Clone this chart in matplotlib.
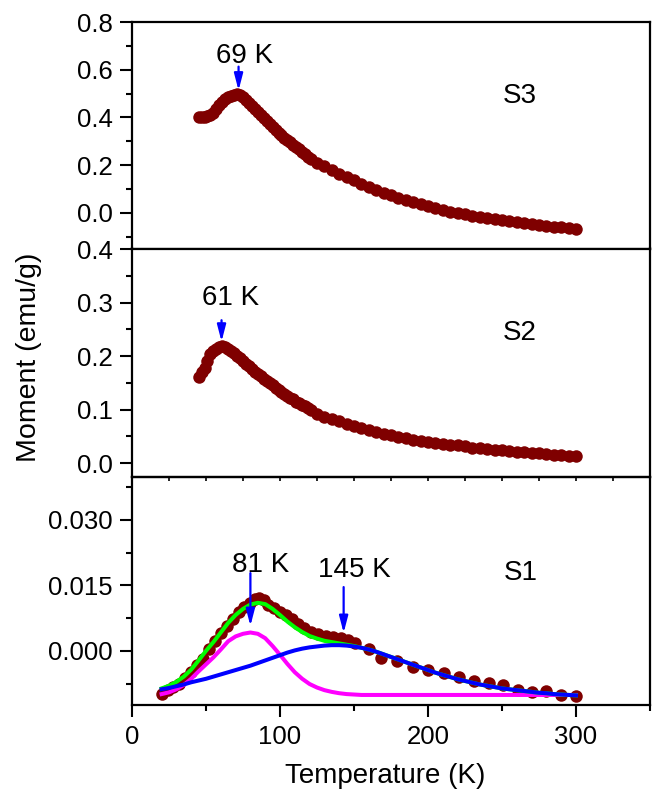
import matplotlib
matplotlib.use("Agg")
import matplotlib.pyplot as plt
from matplotlib.ticker import MultipleLocator, FormatStrFormatter

plt.rcParams['font.family'] = ['Liberation Sans', 'DejaVu Sans']

# ---------------- data ----------------
# S3 and S2: dense measurements (45-121 K) and sparser ones (125-300 K)
T_dense = [45, 47, 49, 51, 53, 55, 57, 59, 61, 63, 65, 67, 69, 71, 73, 75, 77, 79, 81, 83,
           85, 87, 89, 91, 93, 95, 97, 99, 101, 103, 105, 107, 109, 111, 113, 115, 117, 119, 121]
T_sparse = [125, 130, 135, 140, 145, 150, 155, 160, 165, 170, 175, 180, 185, 190, 195, 200,
            205, 210, 215, 220, 225, 230, 235, 240, 245, 250, 255, 260, 265, 270, 275, 280,
            285, 290, 295, 300]

S3_dense = [0.400, 0.402, 0.404, 0.406, 0.410, 0.420, 0.436, 0.452, 0.466, 0.478, 0.487, 0.492,
            0.496, 0.497, 0.493, 0.485, 0.474, 0.461, 0.448, 0.436, 0.424, 0.411, 0.399, 0.386,
            0.374, 0.362, 0.349, 0.337, 0.326, 0.316, 0.306, 0.296, 0.286, 0.276, 0.266, 0.256,
            0.246, 0.236, 0.226]
S3_sparse = [0.208, 0.195, 0.180, 0.165, 0.150, 0.136, 0.122, 0.108, 0.096, 0.085, 0.074, 0.064,
             0.054, 0.045, 0.036, 0.028, 0.020, 0.013, 0.006, 0.000, -0.006, -0.012, -0.017,
             -0.022, -0.027, -0.031, -0.035, -0.039, -0.043, -0.047, -0.051, -0.054, -0.057,
             -0.060, -0.063, -0.066]

S2_dense = [0.161, 0.170, 0.178, 0.190, 0.203, 0.210, 0.214, 0.217, 0.218, 0.217, 0.214, 0.210,
            0.206, 0.201, 0.196, 0.191, 0.186, 0.181, 0.176, 0.171, 0.166, 0.162, 0.157, 0.153,
            0.149, 0.145, 0.141, 0.137, 0.133, 0.129, 0.126, 0.122, 0.119, 0.115, 0.112, 0.109,
            0.106, 0.103, 0.099]
S2_sparse = [0.092, 0.087, 0.083, 0.078, 0.073, 0.069, 0.065, 0.061, 0.058, 0.055, 0.052, 0.049,
             0.047, 0.044, 0.042, 0.040, 0.038, 0.036, 0.034, 0.033, 0.031, 0.029, 0.028, 0.027,
             0.025, 0.024, 0.023, 0.021, 0.020, 0.019, 0.018, 0.017, 0.016, 0.015, 0.014, 0.0135]

# S1 measurements
S1_T = [20, 24, 28, 32, 36, 40, 44, 48, 52, 56, 60, 64, 68, 72, 76, 80, 83, 86, 89, 92, 96, 100,
        104, 108, 112, 116, 121, 126, 131, 136, 141, 146, 151, 160, 168, 179, 190, 200, 211, 221,
        231, 241, 251, 261, 270, 280, 290, 300]
S1_M = [-0.0098, -0.0090, -0.0082, -0.0075, -0.0062, -0.0048, -0.0033, -0.0018, 0.0004, 0.0022,
        0.0040, 0.0058, 0.0073, 0.0088, 0.0100, 0.0110, 0.0118, 0.0122, 0.0117, 0.0106, 0.0098,
        0.0090, 0.0082, 0.0074, 0.0062, 0.0053, 0.0044, 0.0038, 0.0035, 0.0032, 0.0029, 0.0024,
        0.0018, 0.0004, -0.0017, -0.0024, -0.0036, -0.0044, -0.0051, -0.0059, -0.0068, -0.0074,
        -0.0078, -0.0089, -0.0095, -0.0091, -0.0101, -0.0103]

# S1 fitted components
T_fit = [20, 25, 30, 35, 40, 45, 50, 55, 60, 65, 70, 75, 80, 85, 90, 95, 100, 105, 110, 115, 120,
         125, 130, 135, 140, 145, 150, 155, 160, 165, 170, 175, 180, 185, 190, 195, 200, 205, 210,
         215, 220, 225, 230, 235, 240, 245, 250, 255, 260, 265, 270, 275, 280, 285, 290, 295, 300]
fit_81K = [-0.0099, -0.0095, -0.0088, -0.0078, -0.0064, -0.0047, -0.0031, -0.0015, 0.0003, 0.0022,
           0.0033, 0.0039, 0.0042, 0.0039, 0.0029, 0.0011, -0.0009, -0.0030, -0.0049, -0.0064,
           -0.0076, -0.0084, -0.0090, -0.0094, -0.0097, -0.0099, -0.0100, -0.0101, -0.0101,
           -0.0101, -0.0101, -0.0101, -0.0101, -0.0101, -0.0101, -0.0101, -0.0101, -0.0101,
           -0.0101, -0.0101, -0.0101, -0.0101, -0.0101, -0.0101, -0.0101, -0.0101, -0.0101,
           -0.0101, -0.0101, -0.0101, -0.0101, -0.0101, -0.0101, -0.0101, -0.0101, -0.0101, -0.0101]
fit_145K = [-0.0088, -0.0085, -0.0081, -0.0077, -0.0072, -0.0068, -0.0064, -0.0059, -0.0054,
            -0.0049, -0.0044, -0.0039, -0.0034, -0.0028, -0.0022, -0.0016, -0.0010, -0.0004,
            0.0001, 0.0005, 0.0008, 0.0010, 0.0012, 0.0013, 0.0013, 0.0012, 0.0010, 0.0007,
            0.0003, -0.0002, -0.0008, -0.0014, -0.0020, -0.0026, -0.0032, -0.0038, -0.0044,
            -0.0050, -0.0055, -0.0060, -0.0065, -0.0069, -0.0073, -0.0077, -0.0080, -0.0083,
            -0.0086, -0.0088, -0.0090, -0.0092, -0.0094, -0.0096, -0.0097, -0.0099, -0.0100,
            -0.0101, -0.0102]
fit_total = [-0.0086, -0.0080, -0.0071, -0.0059, -0.0043, -0.0022, 0.0000, 0.0020, 0.0042, 0.0064,
             0.0082, 0.0096, 0.0106, 0.0110, 0.0107, 0.0096, 0.0082, 0.0067, 0.0054, 0.0043,
             0.0034, 0.0028, 0.0023, 0.0020, 0.0017, 0.0014, 0.0011, 0.0007, 0.0003, -0.0002,
             -0.0008, -0.0014, -0.0020, -0.0026, -0.0032, -0.0038, -0.0044, -0.0050, -0.0055,
             -0.0060, -0.0065, -0.0069, -0.0073, -0.0077, -0.0080, -0.0083, -0.0086, -0.0088,
             -0.0090, -0.0092, -0.0094, -0.0096, -0.0097, -0.0099, -0.0100, -0.0101, -0.0102]

# ---------------- figure ----------------
W_PX, H_PX = 652, 796
fig = plt.figure(figsize=(W_PX / 100, H_PX / 100), dpi=100)
left = 132 / W_PX
width = 518 / W_PX
ax3 = fig.add_axes([left, 1 - 248.5 / H_PX, width, 226.5 / H_PX])
ax2 = fig.add_axes([left, 1 - 477 / H_PX, width, 228.5 / H_PX])
ax1 = fig.add_axes([left, 1 - 705 / H_PX, width, 228 / H_PX])
ax1.patch.set_visible(False)

DOT = '#7f0000'
ms = 9.0
ARROW = dict(arrowstyle='-|>,head_length=1.0,head_width=0.26',
             color='#0000ff', lw=1.6, shrinkA=0, shrinkB=0)

for ax in (ax3, ax2, ax1):
    ax.set_xlim(0, 350)
    for sp in ax.spines.values():
        sp.set_linewidth(1.6)
    ax.tick_params(axis='y', which='major', direction='out', length=8.6, width=1.5,
                   labelsize=18.5, pad=5)
    ax.tick_params(axis='y', which='minor', direction='out', length=4.6, width=1.5)

# ---- S3 ----
ax3.plot(T_dense, S3_dense, 'o', color=DOT, ms=ms, mew=0)
ax3.plot(T_sparse, S3_sparse, 'o', color=DOT, ms=ms, mew=0)
ax3.set_ylim(-0.149, 0.8)
ax3.yaxis.set_major_locator(MultipleLocator(0.2))
ax3.yaxis.set_minor_locator(MultipleLocator(0.1))
ax3.yaxis.set_major_formatter(FormatStrFormatter('%.1f'))
ax3.tick_params(axis='x', which='both', bottom=False, labelbottom=False)
ax3.text(76, 0.628, '69 K', ha='center', va='baseline', fontsize=20)
ax3.annotate('', xy=(72, 0.513), xytext=(72, 0.613), arrowprops=ARROW)
ax3.text(262, 0.461, 'S3', ha='center', va='baseline', fontsize=20)

# ---- S2 ----
ax2.plot(T_dense, S2_dense, 'o', color=DOT, ms=ms, mew=0)
ax2.plot(T_sparse, S2_sparse, 'o', color=DOT, ms=ms, mew=0)
ax2.set_ylim(-0.026, 0.401)
ax2.yaxis.set_major_locator(MultipleLocator(0.1))
ax2.yaxis.set_minor_locator(MultipleLocator(0.05))
ax2.yaxis.set_major_formatter(FormatStrFormatter('%.1f'))
ax2.xaxis.set_major_locator(MultipleLocator(25))
ax2.tick_params(axis='x', which='major', direction='out', length=2.6, width=1.2,
                labelbottom=False)
ax2.text(66.5, 0.295, '61 K', ha='center', va='baseline', fontsize=20)
ax2.annotate('', xy=(60.5, 0.227), xytext=(60.5, 0.267), arrowprops=ARROW)
ax2.text(262, 0.230, 'S2', ha='center', va='baseline', fontsize=20)
ax2.set_ylabel('Moment (emu/g)', fontsize=20.5)
ax2.yaxis.set_label_coords(-0.1737, 0.525)

# ---- S1 ----
ax1.plot(S1_T, S1_M, 'o', color=DOT, ms=ms, mew=0, zorder=2)
ax1.plot(T_fit, fit_81K, '-', color='#ff00ff', lw=2.9, zorder=3)
ax1.plot(T_fit, fit_total, '-', color='#00ff00', lw=2.9, zorder=4)
ax1.plot(T_fit, fit_145K, '-', color='#0000ff', lw=2.9, zorder=5)
ax1.set_ylim(-0.0124, 0.0398)
ax1.yaxis.set_major_locator(MultipleLocator(0.015))
ax1.yaxis.set_minor_locator(MultipleLocator(0.0075))
ax1.yaxis.set_major_formatter(FormatStrFormatter('%.3f'))
ax1.xaxis.set_major_locator(MultipleLocator(100))
ax1.xaxis.set_minor_locator(MultipleLocator(50))
ax1.tick_params(axis='x', which='major', direction='out', length=8.6, width=1.5,
                labelsize=18.5, pad=6)
ax1.tick_params(axis='x', which='minor', direction='out', length=4.3, width=1.5)
ax1.text(87, 0.01816, '81 K', ha='center', va='baseline', fontsize=20)
ax1.annotate('', xy=(80, 0.0057), xytext=(80, 0.0178), arrowprops=ARROW, zorder=6)
ax1.text(150, 0.01695, '145 K', ha='center', va='baseline', fontsize=20)
ax1.annotate('', xy=(143, 0.0041), xytext=(143, 0.0146), arrowprops=ARROW, zorder=6)
ax1.text(263, 0.01626, 'S1', ha='center', va='baseline', fontsize=20)
ax1.set_xlabel('Temperature (K)', fontsize=20)
ax1.xaxis.set_label_coords(0.488, (705 - 763) / 228)

fig.savefig('out.png', dpi=100)
